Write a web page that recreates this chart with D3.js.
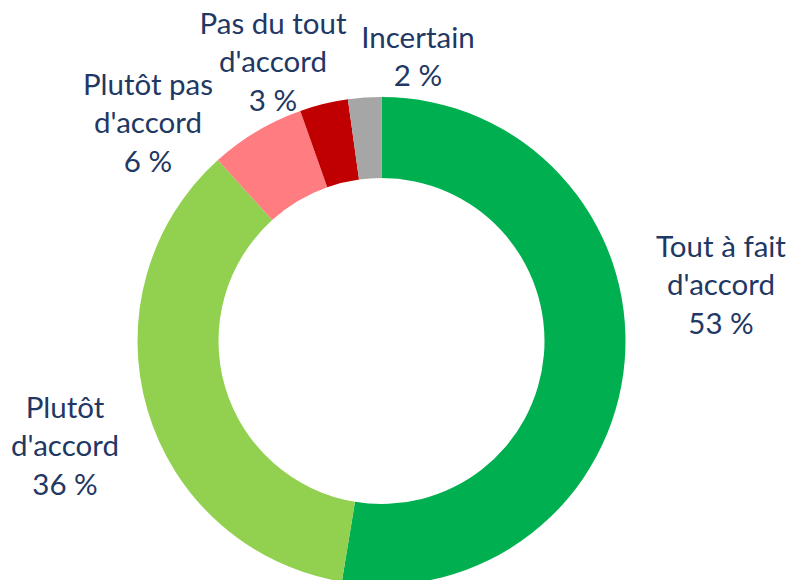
<!DOCTYPE html>
<html>
<head>
<meta charset="utf-8">
<script src="https://cdn.jsdelivr.net/npm/d3@7"></script>
<style>
  html, body { margin: 0; padding: 0; background: #fff; }
  svg { display: block; }
</style>
</head>
<body>
<script>
// Chart data (shares in %, labels show them rounded)
const categories = ["Tout à fait d'accord", "Plutôt d'accord", "Plutôt pas d'accord", "Pas du tout d'accord", "Incertain"];
const values = [52.6, 35.7, 6.3, 3.2, 2.2];
const labelLines = [
  ["Tout à fait", "d'accord"],
  ["Plutôt", "d'accord"],
  ["Plutôt pas", "d'accord"],
  ["Pas du tout", "d'accord"],
  ["Incertain"]
];

// Colours and label layout (x centre, baseline of middle line)
const colors = ["#00B050", "#92D050", "#FF7C80", "#C00000", "#A6A6A6"];
const labelPos = [[721, 295], [65, 456], [148, 133], [273, 72], [418, 67]];

const width = 789, height = 580;
const cx = 381.5, cy = 341;
const outerR = 244, innerR = 163;
const lineH = 38.5;

const svg = d3.select("body").append("svg")
    .attr("width", width)
    .attr("height", height);

const pie = d3.pie().sort(null).value(d => d);
const arc = d3.arc().innerRadius(innerR).outerRadius(outerR);

const g = svg.append("g")
    .attr("transform", `translate(${cx},${cy})`);

g.selectAll("path").data(pie(values))
  .enter().append("path")
    .attr("d", arc)
    .attr("fill", (d, i) => colors[i]);

// Data labels
const labels = svg.selectAll(".label").data(categories)
  .enter().append("text")
    .attr("class", "label")
    .attr("text-anchor", "middle")
    .attr("fill", "#1F3864")
    .style("font-family", "Lato, 'Liberation Sans', sans-serif")
    .style("font-size", "29.5px");

labels.each(function(d, i) {
  const lines = labelLines[i].concat([Math.round(values[i]) + " %"]);
  const top = labelPos[i][1] - (lines.length - 1) * lineH / 2;
  const t = d3.select(this);
  lines.forEach((l, k) => {
    t.append("tspan")
      .attr("x", labelPos[i][0])
      .attr("y", top + k * lineH)
      .text(l);
  });
});
</script>
</body>
</html>
